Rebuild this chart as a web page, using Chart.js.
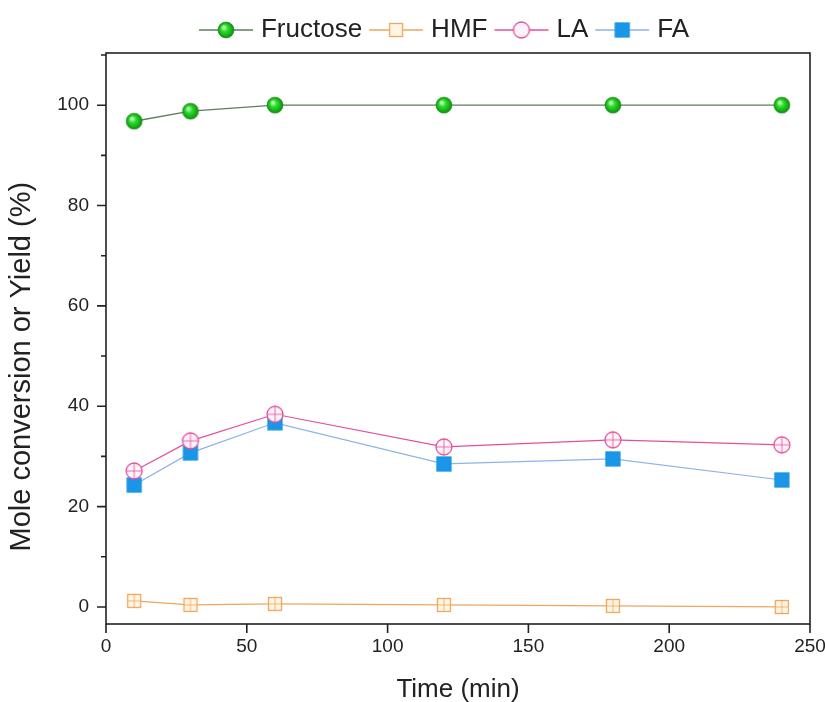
<!DOCTYPE html>
<html><head><meta charset="utf-8">
<script src="https://cdn.jsdelivr.net/npm/chart.js@4/dist/chart.umd.min.js"></script>
<style>html,body{margin:0;padding:0;background:#fff}#wrap{width:825px;height:702px}</style>
</head><body><div id="wrap"><canvas id="c" width="825" height="702"></canvas></div>
<script>
const seriesNames = ['Fructose', 'HMF', 'LA', 'FA'];
const times = [10, 30, 60, 120, 180, 240];
const fructose = [96.8, 98.8, 100, 100, 100, 100];
const hmf = [1.2, 0.4, 0.6, 0.4, 0.2, 0.0];
const la = [27.1, 33.1, 38.4, 31.9, 33.3, 32.3];
const fa = [24.3, 30.7, 36.7, 28.5, 29.5, 25.3];
const xTicks = [0, 50, 100, 150, 200, 250];
const yMajorTicks = [0, 20, 40, 60, 80, 100];
const yMinorTicks = [10, 30, 50, 70, 90, 110];
const xTitle = 'Time (min)';
const yTitle = 'Mole conversion or Yield (%)';

const FONT = "'Liberation Sans', Arial, sans-serif";

function mk(w, h) { const c = document.createElement('canvas'); c.width = w; c.height = h; return c; }
function drawBall(ctx, cx, cy, r) {
  const g = ctx.createRadialGradient(cx - r * 0.3, cy - r * 0.35, r * 0.1, cx, cy, r);
  g.addColorStop(0, '#c8ffc0');
  g.addColorStop(0.35, '#2fe02f');
  g.addColorStop(1, '#0c8f0c');
  ctx.fillStyle = g;
  ctx.beginPath(); ctx.arc(cx, cy, r, 0, Math.PI * 2); ctx.fill();
  ctx.strokeStyle = 'rgba(20,140,20,0.6)'; ctx.lineWidth = 1; ctx.stroke();
}
function drawSq(ctx, cx, cy, s, stroke, fill, cross) {
  ctx.fillStyle = fill; ctx.strokeStyle = stroke; ctx.lineWidth = 1.3;
  ctx.fillRect(cx - s / 2, cy - s / 2, s, s);
  ctx.strokeRect(cx - s / 2, cy - s / 2, s, s);
  if (cross) {
    ctx.beginPath(); ctx.moveTo(cx, cy - s / 2); ctx.lineTo(cx, cy + s / 2);
    ctx.moveTo(cx - s / 2, cy); ctx.lineTo(cx + s / 2, cy);
    ctx.lineWidth = 0.8; ctx.stroke();
  }
}
function drawCirc(ctx, cx, cy, r, stroke, fill, cross) {
  ctx.fillStyle = fill; ctx.strokeStyle = stroke; ctx.lineWidth = 1.3;
  ctx.beginPath(); ctx.arc(cx, cy, r, 0, Math.PI * 2); ctx.fill(); ctx.stroke();
  if (cross) {
    ctx.beginPath(); ctx.moveTo(cx, cy - r); ctx.lineTo(cx, cy + r);
    ctx.moveTo(cx - r, cy); ctx.lineTo(cx + r, cy);
    ctx.lineWidth = 0.8; ctx.stroke();
  }
}
const colors = {
  fruLine: '#5e7d5e', hmf: '#eea75c', hmfFill: '#fff6e6', la: '#e0509a', laFill: '#fff2f8',
  fa: '#1a96e6', faLine: '#8fb2e8'
};
function markerCanvas(kind, cross) {
  const c = mk(20, 20), ctx = c.getContext('2d');
  if (kind === 0) drawBall(ctx, 10, 10, 8);
  if (kind === 1) drawSq(ctx, 10, 10, 13, colors.hmf, colors.hmfFill, cross);
  if (kind === 2) drawCirc(ctx, 10, 10, 8, colors.la, colors.laFill, cross);
  if (kind === 3) drawSq(ctx, 10, 10, 14, colors.fa, colors.fa, false);
  return c;
}
function iconCanvas(kind) {
  const c = mk(56, 24), ctx = c.getContext('2d');
  const lc = [colors.fruLine, colors.hmf, colors.la, colors.faLine][kind];
  ctx.strokeStyle = lc; ctx.lineWidth = 1.3;
  ctx.beginPath(); ctx.moveTo(1, 12); ctx.lineTo(55, 12); ctx.stroke();
  ctx.drawImage(markerCanvas(kind, false), 18, 2);
  return c;
}
const markers = [0, 1, 2, 3].map(k => markerCanvas(k, true));
const icons = [0, 1, 2, 3].map(k => iconCanvas(k));

const toPts = arr => times.map((t, i) => ({ x: t, y: arr[i] }));

const framePlugin = {
  id: 'frame',
  beforeLayout(chart) {
    const lg = chart.legend;
    if (lg && !lg._wrapped) {
      const f = lg.fit.bind(lg);
      lg.fit = function () { f(); this.height = 53; };
      lg._wrapped = true;
    }
  },
  afterLayout(chart) {
    const lg = chart.legend;
    if (lg) { lg.left += 34; lg.right += 34; lg.top += 5; lg.bottom += 5; }
  },
  beforeDatasetsDraw(chart) {
    const { ctx, chartArea: a, scales: { x, y } } = chart;
    ctx.save();
    ctx.strokeStyle = '#222'; ctx.lineWidth = 1.6;
    ctx.strokeRect(a.left, a.top, a.right - a.left, a.bottom - a.top);
    ctx.beginPath();
    yMajorTicks.forEach(v => { const p = y.getPixelForValue(v); ctx.moveTo(a.left - 9, p); ctx.lineTo(a.left, p); });
    yMinorTicks.forEach(v => { const p = y.getPixelForValue(v); ctx.moveTo(a.left - 5, p); ctx.lineTo(a.left, p); });
    xTicks.forEach(v => { const p = x.getPixelForValue(v); ctx.moveTo(p, a.bottom); ctx.lineTo(p, a.bottom + 9); });
    ctx.stroke();
    ctx.restore();
  }
};

new Chart(document.getElementById('c'), {
  type: 'line',
  data: {
    datasets: [
      { label: seriesNames[0], data: toPts(fructose), borderColor: colors.fruLine, borderWidth: 1.3,
        pointStyle: markers[0], pointRadius: 8, tension: 0 },
      { label: seriesNames[1], data: toPts(hmf), borderColor: colors.hmf, borderWidth: 1.2,
        pointStyle: markers[1], pointRadius: 8, tension: 0 },
      { label: seriesNames[2], data: toPts(la), borderColor: colors.la, borderWidth: 1.2,
        pointStyle: markers[2], pointRadius: 8, tension: 0 },
      { label: seriesNames[3], data: toPts(fa), borderColor: colors.faLine, borderWidth: 1.2,
        pointStyle: markers[3], pointRadius: 8, tension: 0 }
    ]
  },
  options: {
    responsive: false,
    animation: false,
    devicePixelRatio: 1,
    layout: { padding: { left: 0, right: 0, top: 0, bottom: 0 } },
    plugins: {
      tooltip: { enabled: false },
      legend: {
        position: 'top',
        labels: {
          usePointStyle: true,
          pointStyleWidth: 44,
          padding: 12,
          color: '#222',
          font: { family: FONT, size: 26 },
          generateLabels: (chart) => chart.data.datasets.map((ds, i) => ({
            text: ds.label, pointStyle: icons[i], fillStyle: 'rgba(0,0,0,0)',
            strokeStyle: 'rgba(0,0,0,0)', lineWidth: 0, hidden: false, datasetIndex: i, fontColor: '#222'
          }))
        }
      }
    },
    scales: {
      x: {
        type: 'linear', min: 0, max: 250,
        afterBuildTicks: s => { s.ticks = xTicks.map(v => ({ value: v })); },
        afterFit: s => { s.height = 78; s.paddingLeft = 0; s.paddingRight = 15; },
        grid: { display: false, drawTicks: false },
        border: { display: false },
        ticks: { color: '#222', padding: 11, font: { family: FONT, size: 19 } },
        title: { display: true, text: xTitle, color: '#222', font: { family: FONT, size: 26 }, padding: { top: 0, bottom: -3 } }
      },
      y: {
        type: 'linear', min: -3.4, max: 110.4,
        afterBuildTicks: s => { s.ticks = yMajorTicks.map(v => ({ value: v })); },
        afterFit: s => { s.width = 106; },
        grid: { display: false, drawTicks: false },
        border: { display: false },
        ticks: { color: '#222', padding: 17, font: { family: FONT, size: 19 } },
        title: { display: true, text: yTitle + '\u00a0'.repeat(7), color: '#222', font: { family: FONT, size: 29 }, padding: { top: 5, bottom: 0 } }
      }
    }
  },
  plugins: [framePlugin]
});
</script>
</body></html>
